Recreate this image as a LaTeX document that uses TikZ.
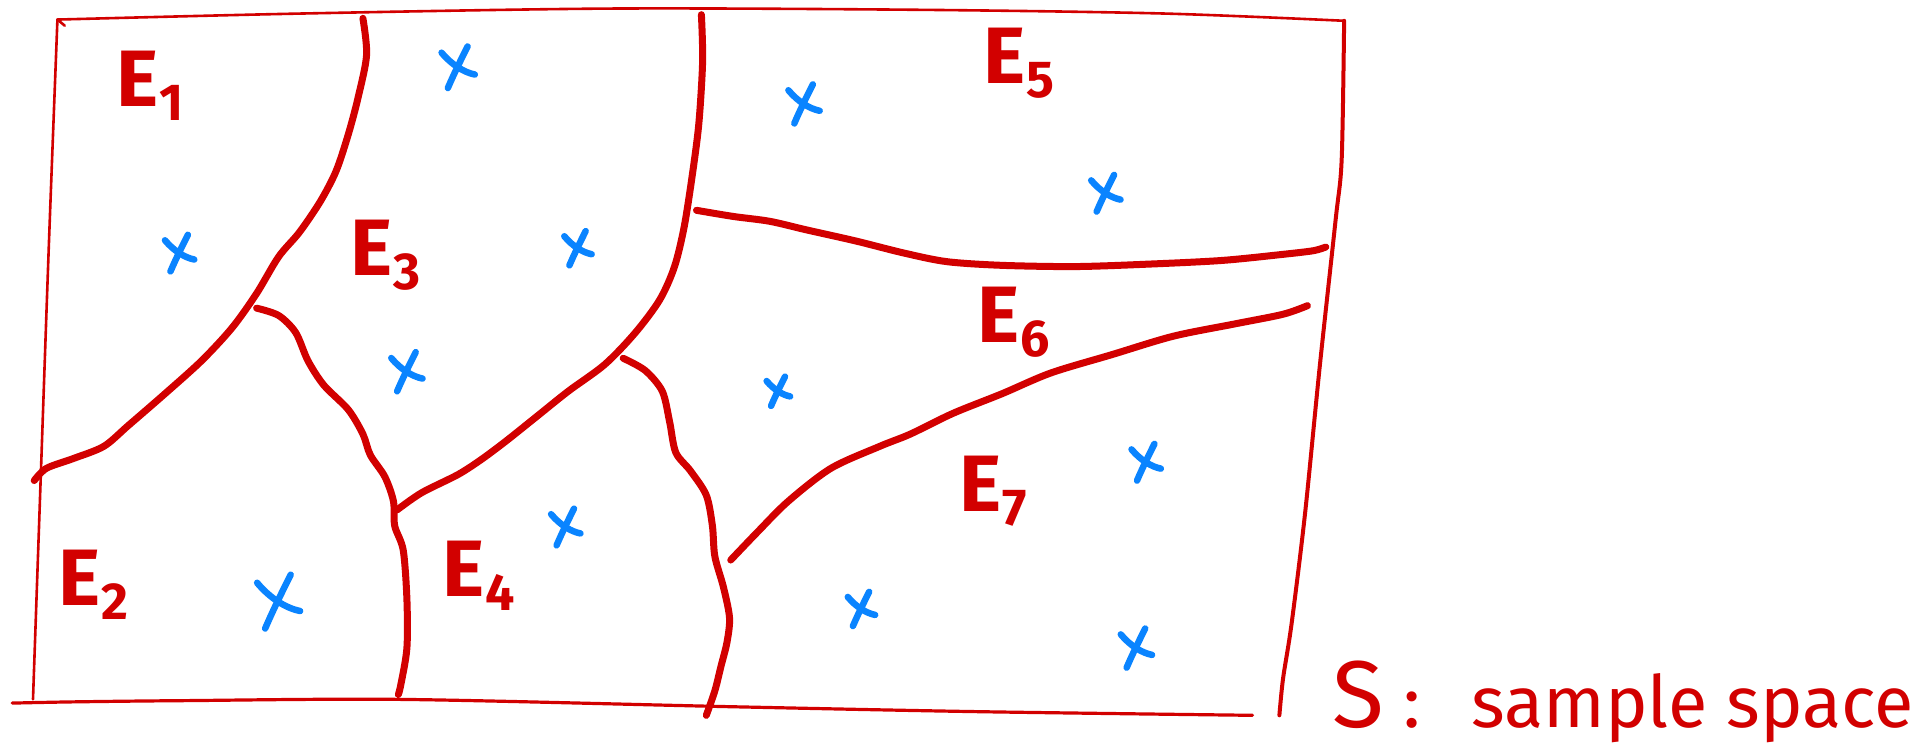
\documentclass[tikz,border=0pt]{standalone}
\usepackage{fontspec}
\setmainfont{Fira Sans}
\definecolor{ink}{RGB}{210,0,0}
\definecolor{dotblue}{RGB}{10,132,255}
\newcommand\Esub[1]{\kern1pt\raisebox{-14pt}{\fontsize{52}{52}\selectfont #1}}
\begin{document}
\begin{tikzpicture}[x=1.22194pt,y=-1.22276pt, line cap=round, line join=round,
  bound/.style={draw=ink, line width=7pt},
  frame/.style={draw=ink, line width=2.6pt},
  xstroke/.style={draw=dotblue, line width=6.5pt},
  lab/.style={text=ink, inner sep=0pt, anchor=base west, font=\fontsize{80}{80}\selectfont\bfseries},
  pics/bluex/.style={code={
    \draw[xstroke] (0.45,-1) .. controls (0.15,-0.4) and (-0.2,0.3) .. (-0.5,1);
    \draw[xstroke] (-0.8,-0.7) .. controls (-0.3,-0.1) and (0.3,0.25) .. (0.8,0.35);
  }}]
\useasboundingbox[fill=white] (0,0) rectangle (1568,615);

% frame
\draw[frame] plot[smooth] coordinates {(47,16) (250,11) (500,7) (750,8) (950,11) (1100,17)};
\draw[frame] (47,16) -- (53,21);
\draw[frame] plot[smooth] coordinates {(47,16) (40,200) (33,400) (27,572)};
\draw[frame, line width=3.2pt] plot[smooth] coordinates {(10,575) (60,574) (150,573) (330,572) (600,578) (800,582) (1025,585)};
\draw[ink, line width=4pt] plot[smooth] coordinates {(1100,17) (1098,130) (1093,180) (1080,300) (1068,420) (1057,510) (1050,555) (1047,585)};

% boundaries
\draw[bound] plot[smooth] coordinates {(297,15) (300,45) (293,80) (285,110) (275,140) (262,165) (245,190) (228,210) (210,240) (190,268) (165,295) (135,322) (105,348) (85,365) (60,375) (38,383) (28,393)};
\draw[bound] plot[smooth] coordinates {(210,252) (228,258) (242,272) (252,295) (265,315) (285,335) (297,355) (303,372) (315,390) (322,410) (323,430) (330,450) (333,490) (333,530) (328,560) (326,568)};
\draw[bound] plot[smooth] coordinates {(325,417) (345,403) (375,388) (395,375) (415,360) (440,340) (465,320) (495,298) (520,272) (540,245) (552,218) (560,185) (567,140) (572,100) (575,50) (574,12)};
\draw[bound] plot[smooth] coordinates {(510,293) (528,303) (542,320) (548,345) (553,370) (565,385) (578,405) (583,430) (585,455) (592,480) (597,505) (595,525) (590,545) (585,565) (578,585)};
\draw[bound] plot[smooth] coordinates {(598,458) (620,435) (645,410) (680,383) (720,365) (745,355) (780,338) (820,322) (860,305) (910,290) (960,275) (1010,265) (1050,257) (1070,250)};
\draw[bound] plot[smooth] coordinates {(570,172) (600,177) (630,181) (660,188) (700,197) (740,207) (775,214) (820,217) (880,218) (940,216) (1000,213) (1050,208) (1075,205) (1085,202)};

% labels
\node[lab] (e1) at (95,87) {E\Esub{1}};
\node[lab] (e2) at (48,495) {E\Esub{2}};
\node[lab] (e3) at (287,225) {E\Esub{3}};
\node[lab] (e4) at (362,488) {E\Esub{4}};
\node[lab] (e5) at (805,68) {E\Esub{5}};
\node[lab] (e6) at (800,280) {E\Esub{6}};
\node[lab] (e7) at (785,418) {E\Esub{7}};

% sample points
\pic[scale=17] at (375,55) {bluex};
\pic[scale=15] at (147,207) {bluex};
\pic[scale=14] at (473,203) {bluex};
\pic[scale=16] at (333,304) {bluex};
\pic[scale=22] at (228,492) {bluex};
\pic[scale=15] at (463,431) {bluex};
\pic[scale=16] at (658,85) {bluex};
\pic[scale=15] at (905,158) {bluex};
\pic[scale=12] at (637,320) {bluex};
\pic[scale=15] at (938,378) {bluex};
\pic[scale=14] at (705,498) {bluex};
\pic[scale=16] at (930,530) {bluex};

% caption
\node[text=ink, inner sep=0pt, anchor=base west, font=\fontsize{72}{72}\selectfont] (cap) at (1090,595)
  {{\fontsize{95}{95}\selectfont S}\hspace{20pt}:\hspace{50pt}sample space};
\end{tikzpicture}
\end{document}
